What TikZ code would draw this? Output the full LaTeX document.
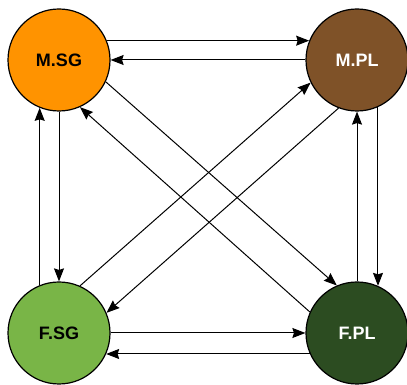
\documentclass[tikz,border=0pt]{standalone}
\usepackage{fontspec}
\setmainfont{Liberation Sans}
\usetikzlibrary{arrows.meta}
\definecolor{msgc}{HTML}{FF9300}
\definecolor{mplc}{HTML}{7F5228}
\definecolor{fsgc}{HTML}{79B547}
\definecolor{fplc}{HTML}{2C4C21}
\tikzset{
  state/.style={circle, draw=black, line width=1.2pt, minimum size=102pt, inner sep=0pt,
    font=\fontsize{18}{20}\selectfont\bfseries},
  conn/.style={line width=1pt, -{Stealth[length=13pt,width=10pt,inset=1.5pt]}}
}
\begin{document}
\begin{tikzpicture}[x=1pt,y=1pt]
\useasboundingbox (0,0) rectangle (407,385);
\node[state, fill=msgc, text=black] (msg) at (59,325) {M.SG};
\node[state, fill=mplc, text=white] (mpl) at (357,325) {M.PL};
\node[state, fill=fsgc, text=black] (fsg) at (59,52) {F.SG};
\node[state, fill=fplc, text=white] (fpl) at (357,52) {F.PL};
% horizontal
\draw[conn] (msg.22) -- (mpl.158);
\draw[conn] (mpl.180) -- (msg.0);
\draw[conn] (fsg.0) -- (fpl.180);
\draw[conn] (fpl.-156) -- (fsg.-24);
% vertical
\draw[conn] (fsg.112) -- (msg.-112);
\draw[conn] (msg.-90) -- (fsg.90);
\draw[conn] (fpl.90) -- (mpl.-90);
\draw[conn] (mpl.-66) -- (fpl.66);
% diagonals
\draw[conn] (msg.-25) -- (fpl.113);
\draw[conn] (fpl.156) -- (msg.-66);
\draw[conn] (fsg.66) -- (mpl.-154);
\draw[conn] (mpl.-111) -- (fsg.23);
\end{tikzpicture}
\end{document}
